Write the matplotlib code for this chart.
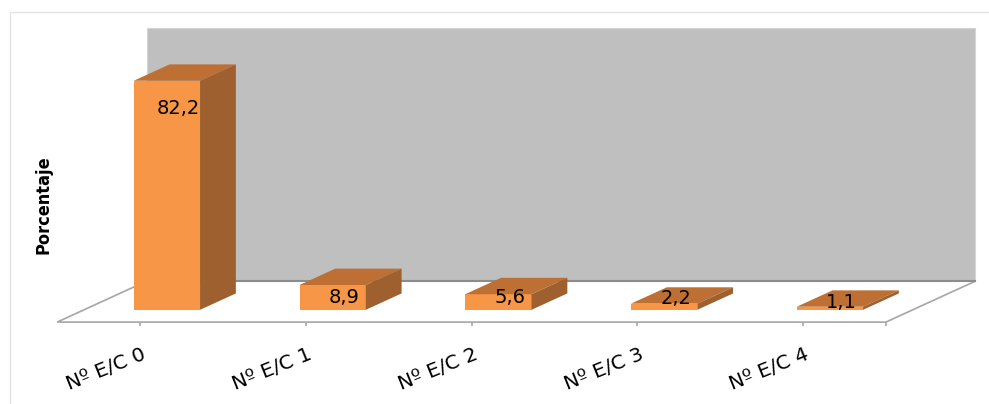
import numpy as np
import matplotlib.pyplot as plt
from matplotlib.patches import Polygon, Rectangle

categorias = ['Nº E/C 0', 'Nº E/C 1', 'Nº E/C 2', 'Nº E/C 3', 'Nº E/C 4']
porcentajes = [82.2, 8.9, 5.6, 2.2, 1.1]

# profundidad oblicua del suelo en unidades de datos (categorias, %)
prof_x, prof_y = 0.54, 14.7
ancho = 0.4
z0, z1 = 0.3, 0.7      # donde empieza y acaba la barra dentro del suelo
techo = 90.7

c_frente = '#F79646'
c_tapa = '#BE7034'
c_lado = '#9D602E'

fig = plt.figure(figsize=(9.89, 4.04), dpi=100)
ax = fig.add_axes([0, 0, 1, 1])
ax.set_xlim(-0.845, 5.122)
ax.set_ylim(-29.4, 115.6)
ax.axis('off')

# marco del grafico
fig.patches.append(Rectangle((10 / 989, -0.05), 1.0, 1.05 - 12 / 404,
                             transform=fig.transFigure, fc='none',
                             ec='#E3E3E3', lw=1.0, zorder=0))

n = len(porcentajes)
x_izq, x_der = -0.5, n - 0.5

# pared del fondo
ax.add_patch(Rectangle((x_izq + prof_x, prof_y), n, techo,
                       fc='#BFBFBF', ec='#D4D4D4', lw=0.8, zorder=1))
# suelo
suelo = [(x_izq, 0), (x_der, 0), (x_der + prof_x, prof_y), (x_izq + prof_x, prof_y)]
ax.add_patch(Polygon(suelo, closed=True, fc='white', ec='#A6A6A6', lw=1.2, zorder=2))
ax.plot([x_izq + prof_x, x_der + prof_x], [prof_y, prof_y], color='#8C8C8C', lw=1.5, zorder=2)
# marcas del eje
ax.vlines(list(range(n)) + [x_der], -1.5, 0, color='#A6A6A6', lw=1.2, zorder=2)

# barras: cara frontal con ax.bar, tapa y lateral como paralelogramos
fx, fy = z0 * prof_x, z0 * prof_y
bx, by = (z1 - z0) * prof_x, (z1 - z0) * prof_y
barras = ax.bar(np.arange(n) + fx, porcentajes, width=ancho, bottom=fy,
                color=c_frente, zorder=3)
for rect in barras:
    x0 = rect.get_x()
    x1 = x0 + rect.get_width()
    y0 = rect.get_y()
    y1 = y0 + rect.get_height()
    ax.add_patch(Polygon([(x0, y1), (x1, y1), (x1 + bx, y1 + by), (x0 + bx, y1 + by)],
                         fc=c_tapa, ec='none', zorder=3))
    ax.add_patch(Polygon([(x1, y0), (x1, y1), (x1 + bx, y1 + by), (x1 + bx, y0 + by)],
                         fc=c_lado, ec='none', zorder=3))

# etiquetas de valor: dentro de las barras altas, sobre las bajas
for i, v in enumerate(porcentajes):
    y = fy + max(v - 9.2, min(v + 2.4, 5.0))
    ax.text(i + fx + 0.07, y, f'{v:.1f}'.replace('.', ','), ha='center',
            va='center_baseline', fontsize=14, zorder=4)

for i, c in enumerate(categorias):
    ax.text(i + 0.01, -8, c, rotation=22, rotation_mode='anchor',
            ha='right', va='top', fontsize=14.5)

fig.text(43 / 989, 1 - 205 / 404, 'Porcentaje', rotation=90, ha='center', va='center',
         fontsize=13, fontweight='bold', fontstretch='condensed', family='DejaVu Sans')

fig.savefig('out.png', dpi=100)
